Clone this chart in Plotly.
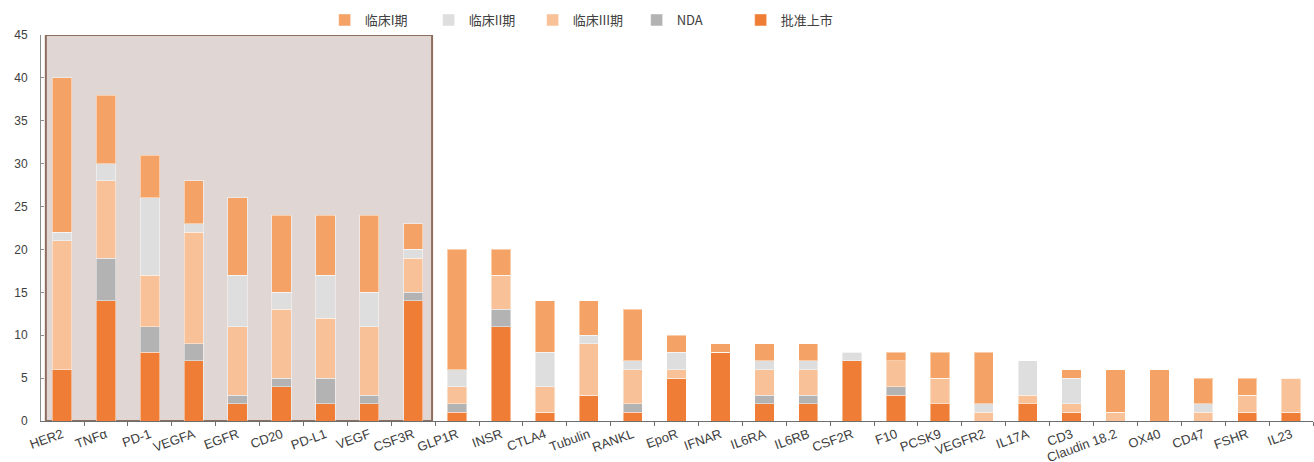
import plotly.graph_objects as go

categories = ["HER2", "TNFα", "PD-1", "VEGFA", "EGFR", "CD20", "PD-L1", "VEGF", "CSF3R",
              "GLP1R", "INSR", "CTLA4", "Tubulin", "RANKL", "EpoR", "IFNAR", "IL6RA", "IL6RB",
              "CSF2R", "F10", "PCSK9", "VEGFR2", "IL17A", "CD3", "Claudin 18.2", "OX40",
              "CD47", "FSHR", "IL23"]

approved = [6, 14, 8, 7, 2, 4, 2, 2, 14, 1, 11, 1, 3, 1, 5, 8, 2, 2, 7, 3, 2, 0, 2, 1, 0, 0, 0, 1, 1]
nda      = [0, 5, 3, 2, 1, 1, 3, 1, 1, 1, 2, 0, 0, 1, 0, 0, 1, 1, 0, 1, 0, 0, 0, 0, 0, 0, 0, 0, 0]
phase3   = [15, 9, 6, 13, 8, 8, 7, 8, 4, 2, 4, 3, 6, 4, 1, 0, 3, 3, 0, 3, 3, 1, 1, 1, 1, 0, 1, 2, 4]
phase2   = [1, 2, 9, 1, 6, 2, 5, 4, 1, 2, 0, 4, 1, 1, 2, 0, 1, 1, 1, 0, 0, 1, 4, 3, 0, 0, 1, 0, 0]
phase1   = [18, 8, 5, 5, 9, 9, 7, 9, 3, 14, 3, 6, 4, 6, 2, 1, 2, 2, 0, 1, 3, 6, 0, 1, 5, 6, 3, 2, 0]

y_ticks = [0, 5, 10, 15, 20, 25, 30, 35, 40, 45]

series = [
    ("批准上市", approved, "#EF7D35"),
    ("NDA", nda, "#B3B3B3"),
    ("临床III期", phase3, "#F8C198"),
    ("临床II期", phase2, "#DEDEDE"),
    ("临床I期", phase1, "#F4A265"),
]

fig = go.Figure()
for name, vals, color in series:
    fig.add_trace(go.Bar(
        name=name, x=categories, y=vals,
        marker=dict(color=color, line=dict(color="rgba(255,255,255,0.45)", width=1)),
    ))

# highlighted region behind the top targets
fig.add_shape(type="rect", xref="x", yref="y", x0=-0.37, x1=8.43, y0=0, y1=45,
              fillcolor="#E0D6D4", line=dict(color="#8C6D60", width=2), layer="below")

font_family = "Liberation Sans, Arial, Noto Sans CJK SC, sans-serif"

fig.update_layout(
    width=1314, height=462,
    barmode="stack", bargap=0.56,
    plot_bgcolor="white", paper_bgcolor="white",
    margin=dict(l=41, r=1, t=35, b=41),
    font=dict(family=font_family, size=12, color="#404040"),
    showlegend=True,
    legend=dict(orientation="h", traceorder="reversed",
                x=0.223, xanchor="left", y=1.0, yanchor="bottom",
                entrywidth=59, entrywidthmode="pixels", itemwidth=30,
                font=dict(family="Noto Sans CJK SC, Liberation Sans, sans-serif", size=13, color="#404040"),
                bgcolor="rgba(0,0,0,0)"),
)
fig.update_xaxes(
    type="category", range=[-0.48, 28.5], automargin=False,
    showline=True, linecolor="#6E6E6E", linewidth=1,
    ticks="outside", tickson="boundaries", ticklen=4, tickcolor="#6E6E6E",
    tickangle=-20, tickfont=dict(size=13, color="#404040"),
    showgrid=False, zeroline=False,
)
fig.update_yaxes(
    range=[0, 45], tickvals=y_ticks, automargin=False,
    showline=True, linecolor="#8C8C8C", linewidth=1,
    ticks="inside", ticklen=3, tickcolor="#8C8C8C",
    ticklabelstandoff=10,
    showgrid=False, zeroline=False,
    tickfont=dict(size=12, color="#404040"),
)

fig.write_html("out.html")
